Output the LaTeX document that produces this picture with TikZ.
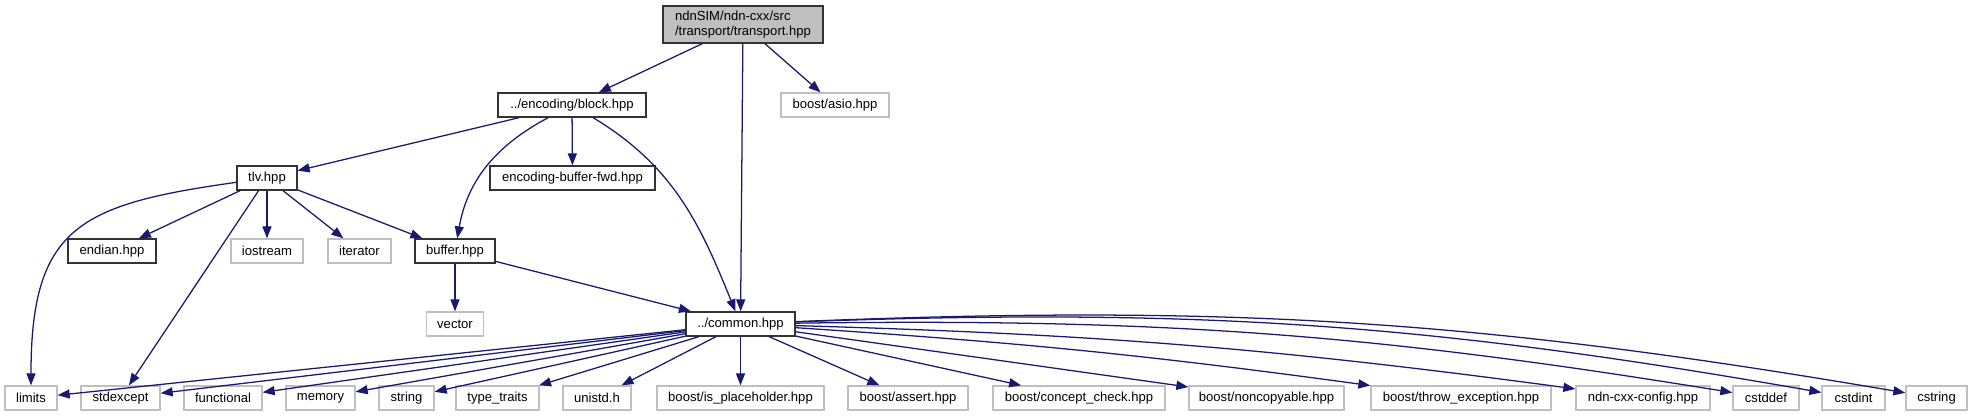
\documentclass[tikz,border=0pt]{standalone}
\usepackage{fontspec}
\setmainfont{Liberation Sans}
\usetikzlibrary{arrows.meta}
\definecolor{depblue}{HTML}{191970}
\definecolor{sysgray}{HTML}{BFBFBF}
\tikzset{
  hdr/.style={draw=black!80, line width=1pt, fill=white, align=center, inner sep=0pt, minimum height=18pt, font=\fontsize{9.8}{11.5}\selectfont},
  syshdr/.style={hdr, draw=sysgray},
  rootbox/.style={hdr, fill=sysgray, align=left, minimum height=27.75pt},
  dep/.style={-{Triangle[length=9pt,width=6.8pt]}, draw=depblue, line width=0.95pt}
}

\begin{document}
\begin{tikzpicture}[x=0.75pt, y=-0.75pt]
\useasboundingbox (0,0) rectangle (1972,416);
% top rows
\node[rootbox, minimum width=120pt] (root) at (743,24.5) {ndnSIM/ndn-cxx/src\\/transport/transport.hpp};
\node[hdr, minimum width=111pt] (block) at (572,105) {../encoding/block.hpp};
\node[syshdr, minimum width=81pt] (asio) at (835,105) {boost/asio.hpp};
\node[hdr, minimum width=45pt] (tlv) at (267,178) {tlv.hpp};
\node[hdr, minimum width=123.75pt] (encfwd) at (572.5,178) {encoding-buffer-fwd.hpp};
\node[hdr, minimum width=66pt] (endian) at (112,251) {endian.hpp};
\node[syshdr, minimum width=54pt] (iostream) at (267,251) {iostream};
\node[syshdr, minimum width=47.25pt] (iterator) at (359.5,251) {iterator};
\node[hdr, minimum width=60pt] (buffer) at (455,251) {buffer.hpp};
\node[syshdr, minimum width=42.75pt] (vector) at (455,324) {vector};
\node[hdr, minimum width=81.75pt] (common) at (740.5,324) {../common.hpp};
% bottom row
\node[syshdr, minimum width=39pt] (limits) at (31,398) {limits};
\node[syshdr, minimum width=59.25pt] (stdexcept) at (120.5,398) {stdexcept};
\node[syshdr, minimum width=58.5pt] (functional) at (223,398) {functional};
\node[syshdr, minimum width=51.75pt] (memory) at (320.5,398) {memory};
\node[syshdr, minimum width=41.25pt] (string) at (406.5,398) {string};
\node[syshdr, minimum width=62.25pt] (typetraits) at (497.5,398) {type\_traits};
\node[syshdr, minimum width=51pt] (unistd) at (597,398) {unistd.h};
\node[syshdr, minimum width=125.25pt] (isph) at (740.5,398) {boost/is\_placeholder.hpp};
\node[syshdr, minimum width=90pt] (assert) at (908,398) {boost/assert.hpp};
\node[syshdr, minimum width=129pt] (concept) at (1079,398) {boost/concept\_check.hpp};
\node[syshdr, minimum width=116.25pt] (noncopy) at (1266.5,398) {boost/noncopyable.hpp};
\node[syshdr, minimum width=135pt] (throwex) at (1461,398) {boost/throw\_exception.hpp};
\node[syshdr, minimum width=100.5pt] (config) at (1643,398) {ndn-cxx-config.hpp};
\node[syshdr, minimum width=49.5pt] (cstddef) at (1766,398) {cstddef};
\node[syshdr, minimum width=47.25pt] (cstdint) at (1853.5,398) {cstdint};
\node[syshdr, minimum width=45.75pt] (cstring) at (1936.5,398) {cstring};
% includes
\draw[dep] (root) -- (block);
\draw[dep] (root) -- (common);
\draw[dep] (root) -- (asio);
\draw[dep] (block) -- (tlv);
\draw[dep] (block) -- (encfwd);
\draw[dep] (block) to[out=208,in=80] (buffer);
\draw[dep] (block) to[out=-31,in=112] (common);
\draw[dep] (tlv) to[out=188,in=90,looseness=1.4] (limits);
\draw[dep] (tlv) -- (endian);
\draw[dep] (tlv) -- (stdexcept);
\draw[dep] (tlv) -- (iostream);
\draw[dep] (tlv) -- (iterator);
\draw[dep] (tlv) -- (buffer);
\draw[dep] (buffer) -- (vector);
\draw[dep] (buffer) -- (common);
\draw[dep] (common) -- (limits);
\draw[dep] (common) -- (stdexcept);
\draw[dep] (common) -- (functional);
\draw[dep] (common) -- (memory);
\draw[dep] (common) -- (string);
\draw[dep] (common) -- (typetraits);
\draw[dep] (common) -- (unistd);
\draw[dep] (common) -- (isph);
\draw[dep] (common) -- (assert);
\draw[dep] (common) -- (concept);
\draw[dep] (common) -- (noncopy);
\draw[dep] (common) to[bend left=2] (throwex);
\draw[dep] (common) to[bend left=3] (config);
\draw[dep] (common) to[bend left=5] (cstddef);
\draw[dep] (common) to[bend left=6] (cstdint);
\draw[dep] (common) to[bend left=6] (cstring);
\end{tikzpicture}
\end{document}
